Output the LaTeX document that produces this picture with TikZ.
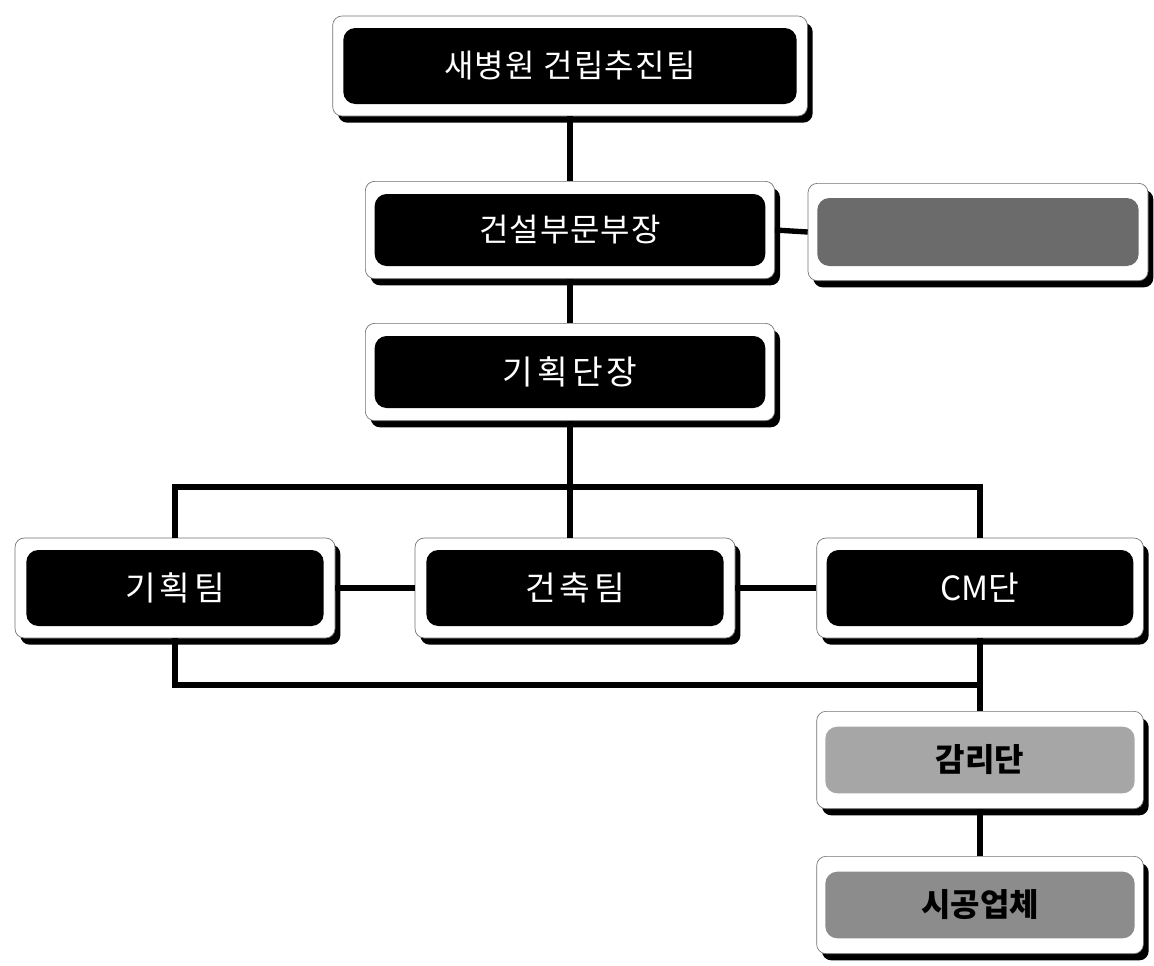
\documentclass[tikz,border=0pt]{standalone}
\usepackage{fontspec}
\setmainfont{Noto Sans CJK KR}
\usetikzlibrary{shadows}
\begin{document}
\begin{tikzpicture}[x=0.75pt,y=-0.75pt,
  frame/.style={rounded corners=7pt, fill=white, draw=black!55, line width=0.5pt,
    inner sep=0pt, drop shadow={shadow xshift=4pt, shadow yshift=-5pt, fill=black, opacity=1}},
  darkbox/.style={rounded corners=9pt, fill=black, text=white, inner sep=0pt,
    font=\fontsize{24}{28}\selectfont},
  spaced/.style={font=\fontsize{25}{28}\selectfont\addfontfeature{LetterSpace=12}},
  greybox/.style={rounded corners=9pt, inner sep=0pt, text=black,
    font=\bfseries\fontsize{24}{28}\selectfont},
  wide/.style={minimum width=307pt, minimum height=73pt},
  widein/.style={minimum width=293pt, minimum height=54pt},
  team/.style={minimum width=240pt, minimum height=75pt},
  teamin/.style={minimum width=223pt, minimum height=57pt},
  link/.style={line width=4pt}]
\useasboundingbox (0,0) rectangle (1154,965);
\fill[white] (0,0) rectangle (1154,965);

% top level
\node[frame, minimum width=356pt, minimum height=75pt] (f0) at (570,66) {};
\node[darkbox, minimum width=340pt, minimum height=57pt,
  font=\fontsize{24}{28}\selectfont\addfontfeature{LetterSpace=4}] (n0) at (f0) {새병원 건립추진팀};

% second level with side box
\node[frame, wide] (f1) at (570,230) {};
\node[darkbox, widein, font=\fontsize{24}{28}\selectfont\addfontfeature{LetterSpace=3}] (n1) at (f1) {건설부문부장};
\node[frame, minimum width=255pt, minimum height=73pt] (g0) at (978,232) {};
\node[greybox, fill=black!58, minimum width=241pt, minimum height=51pt] (m0) at (g0) {};

% third level
\node[frame, wide] (f2) at (570,372) {};
\node[darkbox, widein, spaced] (n2) at (f2) {기획단장};

% teams
\node[frame, team] (t1) at (175,588) {};
\node[darkbox, teamin, spaced] (k1) at (t1) {기획팀};
\node[frame, team] (t2) at (575,588) {};
\node[darkbox, teamin, spaced] (k2) at (t2) {건축팀};
\node[frame, team, minimum width=245pt] (t3) at (980,588) {};
\node[darkbox, teamin, minimum width=230pt, font=\fontsize{25}{28}\selectfont] (k3) at (t3) {CM단};

% supervision and contractor
\node[frame, minimum width=245pt, minimum height=73pt] (g1) at (980,760) {};
\node[greybox, fill=black!35, minimum width=232pt, minimum height=50pt] (m1) at (g1) {감리단};
\node[frame, minimum width=245pt, minimum height=73pt] (g2) at (980,905) {};
\node[greybox, fill=black!45, minimum width=232pt, minimum height=50pt] (m2) at (g2) {시공업체};

% connectors
\coordinate (busT) at (570,487);
\coordinate (busB) at (980,685);
\draw[link] (f0.south) -- (f1.north);
\draw[link] (f1.east) -- (g0.west);
\draw[link] (f1.south) -- (f2.north);
\draw[link] (f2.south) -- (busT);
\draw[link] (t1.north) |- (busT) -| (t3.north);
\draw[link] (busT) -- (busT |- t2.north);
\draw[link] (t1.east) -- (t2.west);
\draw[link] (t2.east) -- (t3.west);
\draw[link] (t1.south) |- (busB);
\draw[link] (t3.south) -- (g1.north);
\draw[link] (g1.south) -- (g2.north);
\end{tikzpicture}
\end{document}
